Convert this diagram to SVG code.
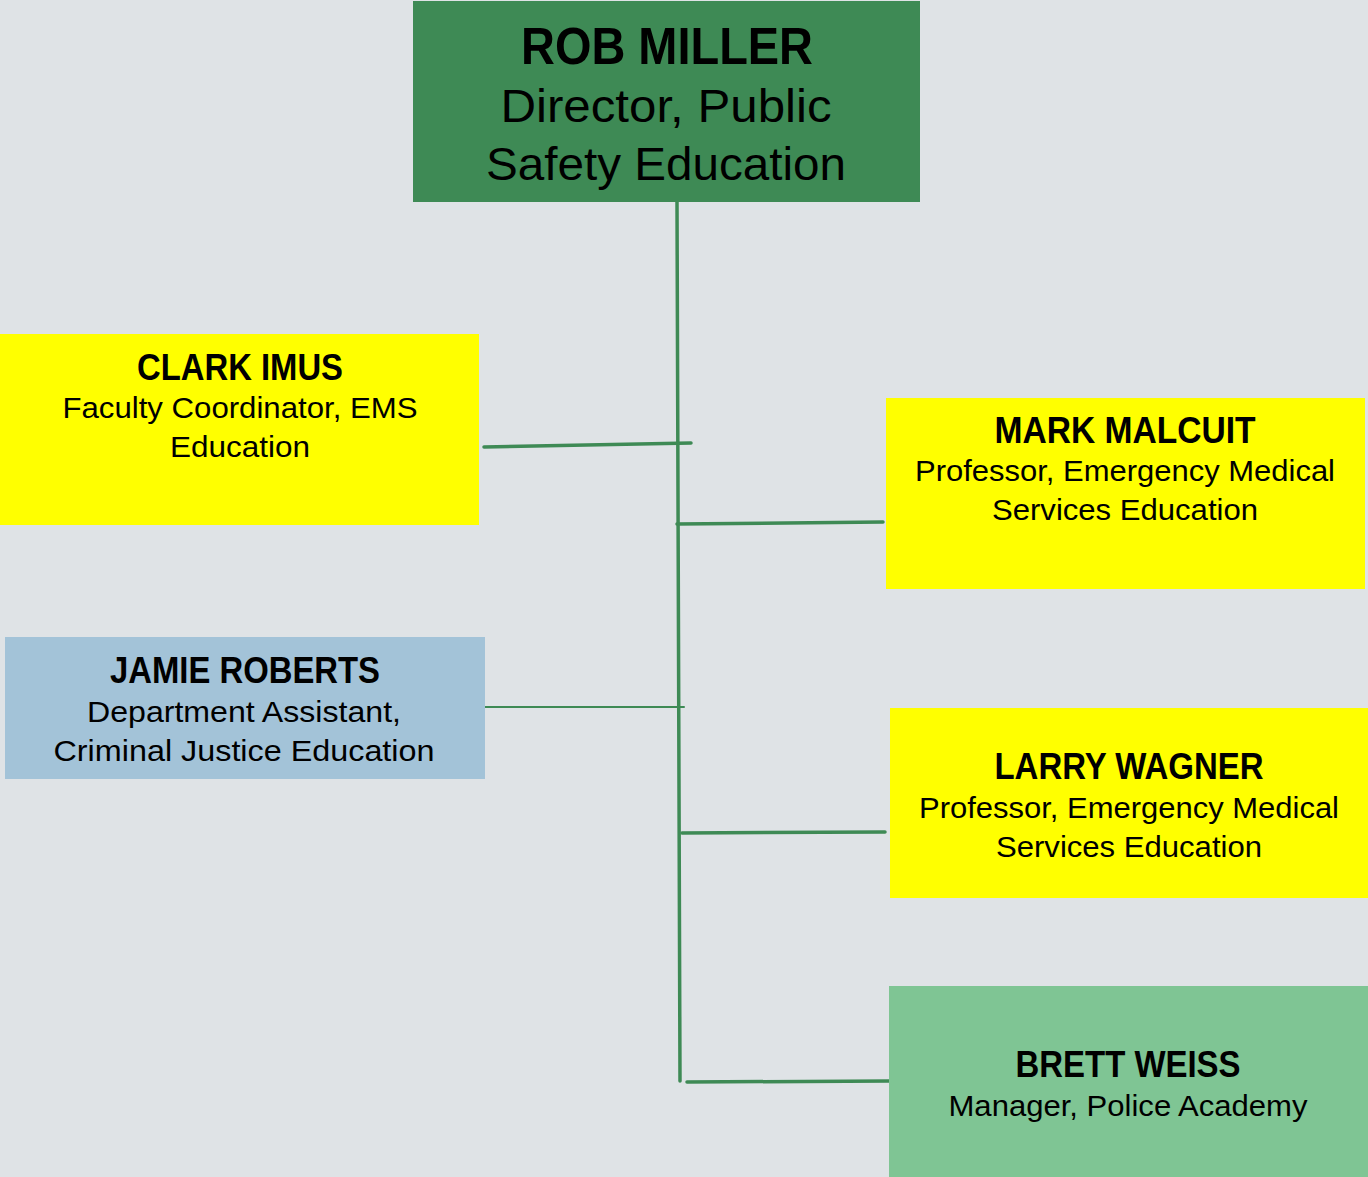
<svg xmlns="http://www.w3.org/2000/svg" width="1368" height="1177" viewBox="0 0 1368 1177">
<style>
text{font-family:"Liberation Sans",Arial,sans-serif;fill:#000;text-anchor:middle}
.n{font-weight:bold;font-size:36px}
.s{font-size:30px}
.tn{font-weight:bold;font-size:52px}
.ts{font-size:46px}
.c{stroke:#3e8a55;fill:none;stroke-linecap:round}
</style>
<rect width="1368" height="1177" fill="#dfe3e6"/>
<g id="connectors">
<line class="c" x1="677" y1="202" x2="680" y2="1081" stroke-width="3.5"/>
<line class="c" x1="484" y1="447" x2="691" y2="443" stroke-width="3.5"/>
<line class="c" x1="677" y1="524" x2="883" y2="522" stroke-width="3.5"/>
<line class="c" x1="484" y1="707" x2="684" y2="707" stroke-width="2"/>
<line class="c" x1="682" y1="833" x2="885" y2="832" stroke-width="3.5"/>
<line class="c" x1="687" y1="1082" x2="889" y2="1081" stroke-width="3.5"/>
</g>
<g id="rob-miller">
<rect x="413" y="1" width="507" height="201" fill="#3e8a55"/>
<text class="tn" x="667" y="64" textLength="292" lengthAdjust="spacingAndGlyphs">ROB MILLER</text>
<text class="ts" x="666" y="122" textLength="331" lengthAdjust="spacingAndGlyphs">Director, Public</text>
<text class="ts" x="666" y="180" textLength="360" lengthAdjust="spacingAndGlyphs">Safety Education</text>
</g>
<g id="clark-imus">
<rect x="0" y="334" width="479" height="191" fill="#ffff00"/>
<text class="n" x="240" y="380" textLength="206" lengthAdjust="spacingAndGlyphs">CLARK IMUS</text>
<text class="s" x="240" y="418" textLength="355" lengthAdjust="spacingAndGlyphs">Faculty Coordinator, EMS</text>
<text class="s" x="240" y="457" textLength="140" lengthAdjust="spacingAndGlyphs">Education</text>
</g>
<g id="mark-malcuit">
<rect x="886" y="398" width="479" height="191" fill="#ffff00"/>
<text class="n" x="1125" y="443" textLength="261" lengthAdjust="spacingAndGlyphs">MARK MALCUIT</text>
<text class="s" x="1125" y="481" textLength="420" lengthAdjust="spacingAndGlyphs">Professor, Emergency Medical</text>
<text class="s" x="1125" y="520" textLength="266" lengthAdjust="spacingAndGlyphs">Services Education</text>
</g>
<g id="jamie-roberts">
<rect x="5" y="637" width="480" height="142" fill="#a3c3d8"/>
<text class="n" x="245" y="683" textLength="270" lengthAdjust="spacingAndGlyphs">JAMIE ROBERTS</text>
<text class="s" x="244" y="722" textLength="314" lengthAdjust="spacingAndGlyphs">Department Assistant,</text>
<text class="s" x="244" y="761" textLength="381" lengthAdjust="spacingAndGlyphs">Criminal Justice Education</text>
</g>
<g id="larry-wagner">
<rect x="890" y="708" width="478" height="190" fill="#ffff00"/>
<text class="n" x="1129" y="779" textLength="269" lengthAdjust="spacingAndGlyphs">LARRY WAGNER</text>
<text class="s" x="1129" y="818" textLength="420" lengthAdjust="spacingAndGlyphs">Professor, Emergency Medical</text>
<text class="s" x="1129" y="857" textLength="266" lengthAdjust="spacingAndGlyphs">Services Education</text>
</g>
<g id="brett-weiss">
<rect x="889" y="986" width="479" height="191" fill="#7fc594"/>
<text class="n" x="1128" y="1077" textLength="225" lengthAdjust="spacingAndGlyphs">BRETT WEISS</text>
<text class="s" x="1128" y="1116" textLength="359" lengthAdjust="spacingAndGlyphs">Manager, Police Academy</text>
</g>
</svg>
